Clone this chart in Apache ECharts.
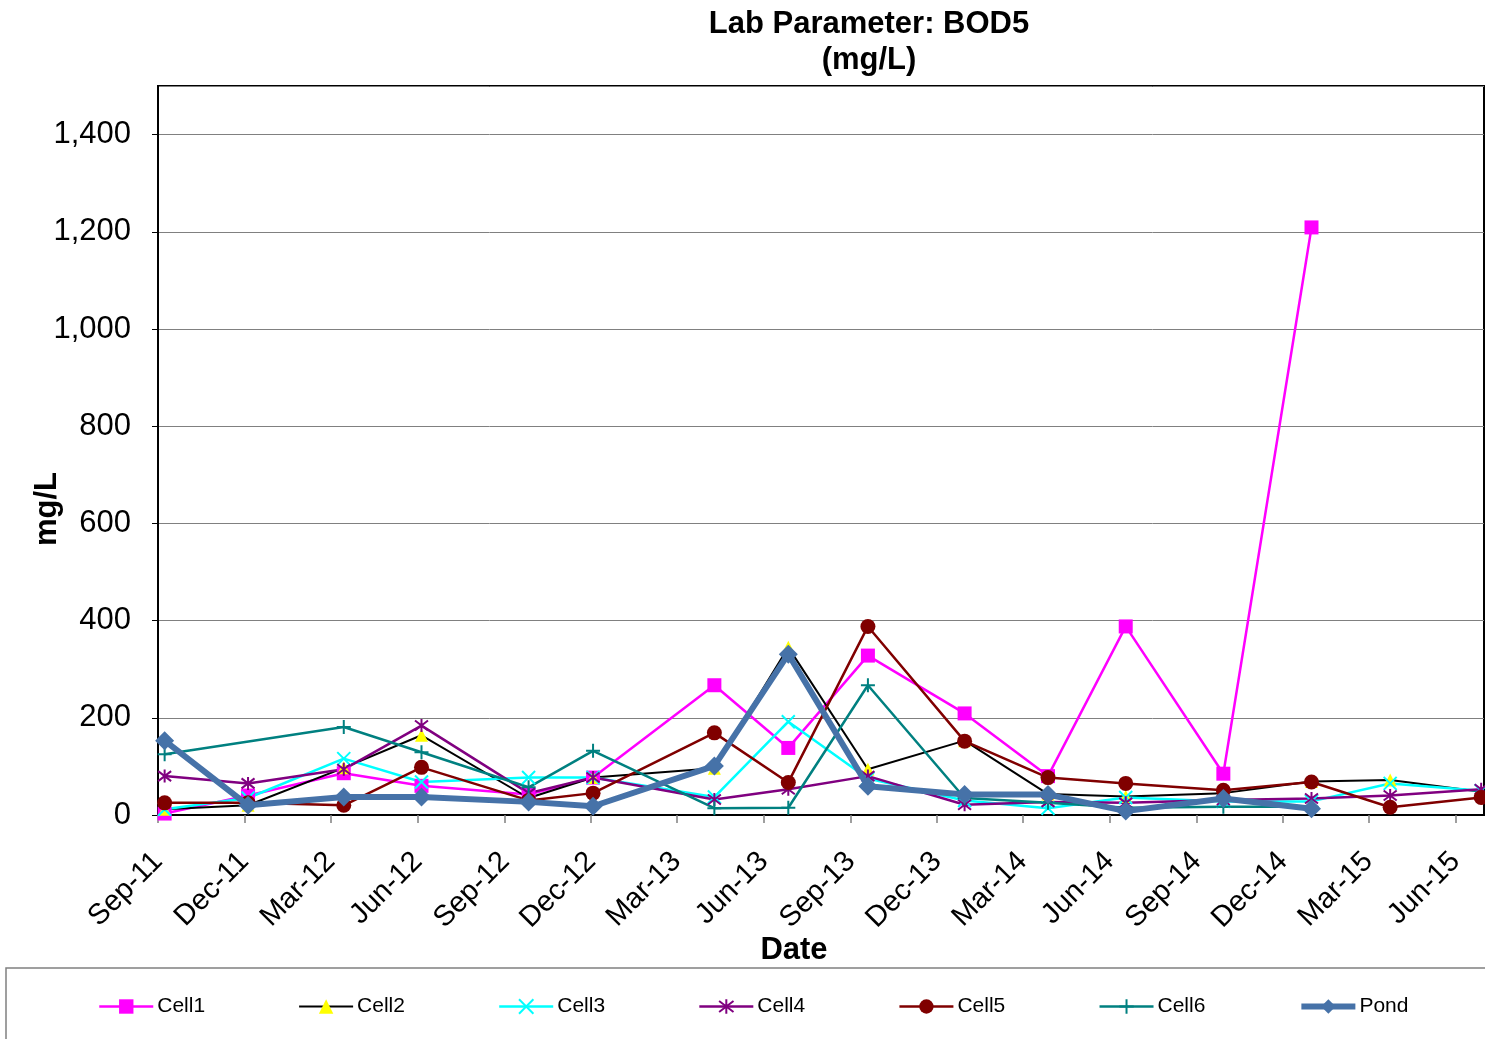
<!DOCTYPE html>
<html>
<head>
<meta charset="utf-8">
<script src="https://cdn.jsdelivr.net/npm/echarts@6/dist/echarts.min.js"></script>
<style>
html,body{margin:0;padding:0;background:#fff;}
#chart{width:1485px;height:1039px;}
</style>
</head>
<body>
<div id="chart"></div>
<script>
// Sampling dates
const sampleDates = ['2011-09-08','2011-12-05','2012-03-15','2012-06-05','2012-09-26','2012-12-03',
  '2013-04-10','2013-06-27','2013-09-19','2013-12-30','2014-03-28','2014-06-18',
  '2014-09-29','2014-12-31','2015-03-24','2015-06-28'];
// Series values (mg/L)
const cell1 = [3, 40, 86, 60, 42, 77, 267, 138, 328, 209, 80, 388, 85, 1209, null, null];
const cell2 = [12, 20, 97, 164, 35, 77, 96, 345, 94, 153, 43, 38, 45, 69, 72, 48];
const cell3 = [12, 35, 116, 68, 77, 77, 37, 192, 75, 30, 14, 36, 28, 28, 65, 50];
const cell4 = [80, 65, 94, 184, 45, 77, 32, 53, 80, 21, 27, 25, 31, 34, 40, 53];
const cell5 = [25, 25, 20, 98, 30, 45, 169, 67, 388, 152, 77, 65, 51, 68, 16, 36];
const cell6 = [125, null, 181, 129, 57, 132, 14, 15, 267, 35, 25, 15, 17, 17, null, null];
const pond  = [153, 20, 37, 37, 27, 18, 101, 331, 59, 42, 42, 8, 34, 13, null, null];
// X tick labels
const tickLabels = ['Sep-11','Dec-11','Mar-12','Jun-12','Sep-12','Dec-12','Mar-13','Jun-13',
  'Sep-13','Dec-13','Mar-14','Jun-14','Sep-14','Dec-14','Mar-15','Jun-15'];
const tickDates = ['2011-09-01','2011-12-01','2012-03-01','2012-06-01','2012-09-01','2012-12-01',
  '2013-03-01','2013-06-01','2013-09-01','2013-12-01','2014-03-01','2014-06-01',
  '2014-09-01','2014-12-01','2015-03-01','2015-06-01'];
const axisStart = '2011-09-01';
const axisEnd = '2015-07-01';

const origin = Date.UTC(2011, 8, 1);
function dayOf(s) {
  const p = s.split('-').map(Number);
  return Math.round((Date.UTC(p[0], p[1] - 1, p[2]) - origin) / 86400000);
}
const tickDays = tickDates.map(dayOf);
function pairs(vals) {
  const out = [];
  vals.forEach((v, i) => { if (v !== null) out.push([dayOf(sampleDates[i]), v]); });
  return out;
}

const FONT = 'Liberation Sans, Arial, sans-serif';
const X_PATH = 'path://M0,0L10,10M10,0L0,10';
const STAR_PATH = 'path://M0,0L10,10M10,0L0,10M5,-1.5L5,11.5';
const PLUS_PATH = 'path://M5,0L5,10M0,5L10,5';

function mk(name, vals, color, symbol, size, opts) {
  opts = opts || {};
  const stroke = !!opts.stroke;
  return {
    name: name,
    type: 'line',
    data: pairs(vals),
    symbol: symbol,
    symbolSize: size,
    showAllSymbol: true,
    lineStyle: { color: color, width: opts.lw || 2.5 },
    itemStyle: stroke
      ? { color: 'rgba(0,0,0,0)', borderColor: opts.mc || color, borderWidth: 2 }
      : { color: opts.mc || color, borderWidth: 0 },
    color: opts.mc || color,
    emphasis: { disabled: true },
    z: opts.z || 2
  };
}

const chart = echarts.init(document.getElementById('chart'), null, { renderer: 'canvas' });
chart.setOption({
  animation: false,
  backgroundColor: '#fff',
  textStyle: { fontFamily: FONT },
  title: {
    text: 'Lab Parameter: BOD5\n(mg/L)',
    left: 864, top: 1, textAlign: 'center',
    textStyle: { fontFamily: FONT, fontSize: 31, fontWeight: 'bold', color: '#000', lineHeight: 36 }
  },
  grid: { left: 158, right: 1, top: 86, bottom: 224, show: true, borderColor: '#000', borderWidth: 2, backgroundColor: 'transparent' },
  xAxis: {
    type: 'value',
    min: dayOf(axisStart), max: dayOf(axisEnd),
    axisLine: { show: true, lineStyle: { color: '#000', width: 2 } },
    axisTick: { show: true, customValues: tickDays, length: 8, lineStyle: { color: '#808080', width: 1.5 } },
    axisLabel: {
      customValues: tickDays,
      rotate: 45, margin: 42,
      fontFamily: FONT, fontSize: 29, color: '#000',
      formatter: function (v) { const i = tickDays.indexOf(v); return i >= 0 ? tickLabels[i] : ''; }
    },
    splitLine: { show: false }
  },
  yAxis: {
    type: 'value', min: 0, max: 1500, interval: 200,
    axisLine: { show: true, lineStyle: { color: '#000', width: 2 } },
    axisTick: { show: true, length: 6, lineStyle: { color: '#000', width: 1 } },
    axisLabel: {
      showMaxLabel: false, margin: 27,
      fontFamily: FONT, fontSize: 31, color: '#000',
      formatter: function (v) { return v === 1500 ? '' : v.toLocaleString('en-US'); }
    },
    splitLine: { show: true, lineStyle: { color: '#808080', width: 1 } }
  },
  legend: {
    left: 98, top: 996, padding: 0,
    itemWidth: 54, itemHeight: 18, itemGap: 93,
    lineStyle: { width: 'inherit' },
    textStyle: { fontFamily: FONT, fontSize: 21, color: '#000', padding: [0, 0, 0, -1] },
    data: ['Cell1','Cell2','Cell3','Cell4','Cell5','Cell6','Pond']
  },
  graphic: [
    { type: 'rect', shape: { x: 6, y: 968, width: 1500, height: 100 }, style: { fill: 'none', stroke: '#808080', lineWidth: 1.5 }, z: 0, silent: true },
    { type: 'text', x: 47, y: 509, rotation: Math.PI / 2,
      style: { text: 'mg/L', font: 'bold 31px ' + FONT, fill: '#000', textAlign: 'center', textVerticalAlign: 'middle' } },
    { type: 'text', x: 794, y: 950,
      style: { text: 'Date', font: 'bold 31px ' + FONT, fill: '#000', textAlign: 'center', textVerticalAlign: 'middle' } }
  ],
  series: [
    mk('Cell1', cell1, '#FF00FF', 'rect', 14),
    mk('Cell2', cell2, '#000000', 'triangle', 13, { mc: '#FFFF00', lw: 2 }),
    mk('Cell3', cell3, '#00FFFF', X_PATH, 13, { stroke: true }),
    mk('Cell4', cell4, '#800080', STAR_PATH, 13, { stroke: true }),
    mk('Cell5', cell5, '#800000', 'circle', 15),
    mk('Cell6', cell6, '#008080', PLUS_PATH, 14, { stroke: true }),
    mk('Pond', pond, '#4672A8', 'diamond', 19, { lw: 6, z: 3 })
  ]
});
</script>
</body>
</html>
